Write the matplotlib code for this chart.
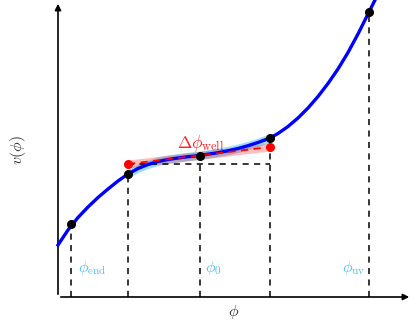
import matplotlib
matplotlib.use('Agg')
import matplotlib.pyplot as plt
import numpy as np

plt.rcParams['mathtext.fontset'] = 'cm'

# curve (phi, v)
phi = [0, 10, 20, 30, 40, 50, 60, 70, 80, 90, 100, 110, 120, 130, 142, 150, 160,
       170, 180, 190, 200, 212, 220, 230, 240, 250, 260, 270, 280, 290, 300, 311, 320]
v = [52, 67, 79.5, 90, 99.5, 108, 116, 123, 128.5, 132.5, 135.5, 137.5, 139, 140.3,
     141.5, 142.8, 144.3, 146.2, 148.5, 151.3, 154.5, 159, 163.5, 170.5, 179, 189,
     200.5, 213.5, 228, 244.5, 263, 285, 303]

# marked points
mark_phi = [13, 70, 142, 212, 311]
mark_v = [73, 123, 141.5, 159, 285]
labels = [r'$\phi_{\rm end}$', r'$\phi_0$', r'$\phi_{\rm uv}$']
label_phi = [20, 147, 284]

# red "well" segment
well_phi = [70, 212]
well_v = [133, 150]

fig = plt.figure(figsize=(4.13, 3.23), dpi=100)
ax = fig.add_axes([0, 0, 1, 1])
ax.set_xlim(-58, 355)
ax.set_ylim(-26, 297)
ax.axis('off')

# axes arrows
ax.annotate('', xy=(354, 0), xytext=(0, 0),
            arrowprops=dict(arrowstyle='-|>', color='black', lw=1.2, mutation_scale=9))
ax.annotate('', xy=(0, 296), xytext=(0, 0),
            arrowprops=dict(arrowstyle='-|>', color='black', lw=1.2, mutation_scale=9))

phi_a = np.array(phi, dtype=float)
v_a = np.array(v, dtype=float)

# blue band along the curve over the well
sel = (phi_a >= well_phi[0]) & (phi_a <= well_phi[1])
ax.fill_between(phi_a[sel], v_a[sel] - 4, v_a[sel] + 4.5, color='#5bc8f5', alpha=0.6, lw=0, zorder=2)

# red band around the well line
ax.fill_between(well_phi, np.array(well_v) - 4, np.array(well_v) + 4,
                color='red', alpha=0.25, lw=0, zorder=2)

# dashed guides
for p, val in zip(mark_phi, mark_v):
    ax.plot([p, p], [0, val], color='black', ls=(0, (4, 3.5)), lw=1.1, zorder=3)
ax.plot(well_phi, [well_v[0], well_v[0]], color='black', ls=(0, (4, 3.5)), lw=1.1, zorder=3)

ax.plot(phi_a, v_a, color='#0000ff', lw=2.4, zorder=4, solid_joinstyle='round')
ax.plot(well_phi, well_v, color='red', ls=(0, (4, 3)), lw=1.3, zorder=5)
ax.plot(well_phi, well_v, 'o', color='red', ms=5.5, zorder=6)
ax.plot(mark_phi, mark_v, 'o', color='black', ms=5.5, zorder=6)

for lab, p in zip(labels, label_phi):
    ax.text(p, 29, lab, color='#4fc1ee', fontsize=11.5, ha='left', va='center')

ax.text(143, 154, r'$\Delta\phi_{\rm well}$', color='#ff2020', fontsize=12.5, ha='center', va='center')
ax.text(176, -15, r'$\phi$', color='#333333', fontsize=11.5, ha='center', va='center')
ax.text(-40, 147, r'$v(\phi)$', color='#333333', fontsize=11.5, ha='center', va='center', rotation=90)

fig.savefig('out.png', dpi=100)
